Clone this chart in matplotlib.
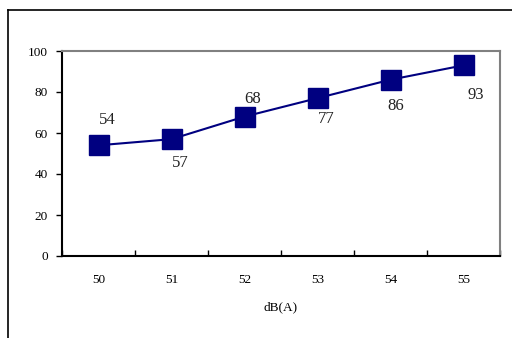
import matplotlib
matplotlib.use("Agg")
import matplotlib.pyplot as plt
from matplotlib.lines import Line2D

# 各音量下的百分比
niveles = ["50", "51", "52", "53", "54", "55"]
valores = [54, 57, 68, 77, 86, 93]
# 數值標籤的偏移 (points)
offsets = [(6, 18), (6, -17), (6, 13), (6, -15), (4, -19), (9, -21)]

plt.rcParams['font.family'] = ['Liberation Serif', 'DejaVu Serif']

fig = plt.figure(figsize=(5.12, 3.38), dpi=100)
ax = fig.add_axes([62 / 512, 1 - 256 / 338, 438 / 512, 205 / 338])

x = list(range(len(valores)))
ax.plot(x, valores, color='#000080', linewidth=1.5, marker='s',
        markersize=14.5, markerfacecolor='#000080', markeredgecolor='#000080')

for i, v in enumerate(valores):
    ax.annotate(str(v), (x[i], v), xytext=offsets[i], textcoords='offset points',
                ha='center', va='center', fontsize=12, color='#222222')

ax.set_xlim(-0.5, len(valores) - 0.5)
ax.set_ylim(0, 100)
ax.set_yticks(range(0, 101, 20))
ax.tick_params(axis='y', direction='out', length=4, width=1, labelsize=9.5, pad=6)

ax.set_xticks(x)
ax.set_xticklabels(niveles)
ax.set_xticks([i - 0.5 for i in range(len(valores) + 1)], minor=True)
ax.tick_params(axis='x', which='major', length=0, labelsize=9.5, pad=13)
ax.tick_params(axis='x', which='minor', direction='in', length=4, width=1)
ax.set_xlabel("dB(A)", fontsize=9.5, labelpad=11)

ax.spines['left'].set_linewidth(1.5)
ax.spines['bottom'].set_linewidth(1.5)
ax.spines['top'].set_color('#808080')
ax.spines['right'].set_color('#808080')
ax.spines['top'].set_linewidth(1.5)
ax.spines['right'].set_linewidth(1.5)

# 外框 (左邊和上邊)
fig.add_artist(Line2D([8 / 512, 8 / 512], [0, 1 - 10 / 338], color='black', linewidth=1.2))
fig.add_artist(Line2D([8 / 512, 1], [1 - 10 / 338, 1 - 10 / 338], color='black', linewidth=1.2))

fig.savefig("out.png", dpi=100)
